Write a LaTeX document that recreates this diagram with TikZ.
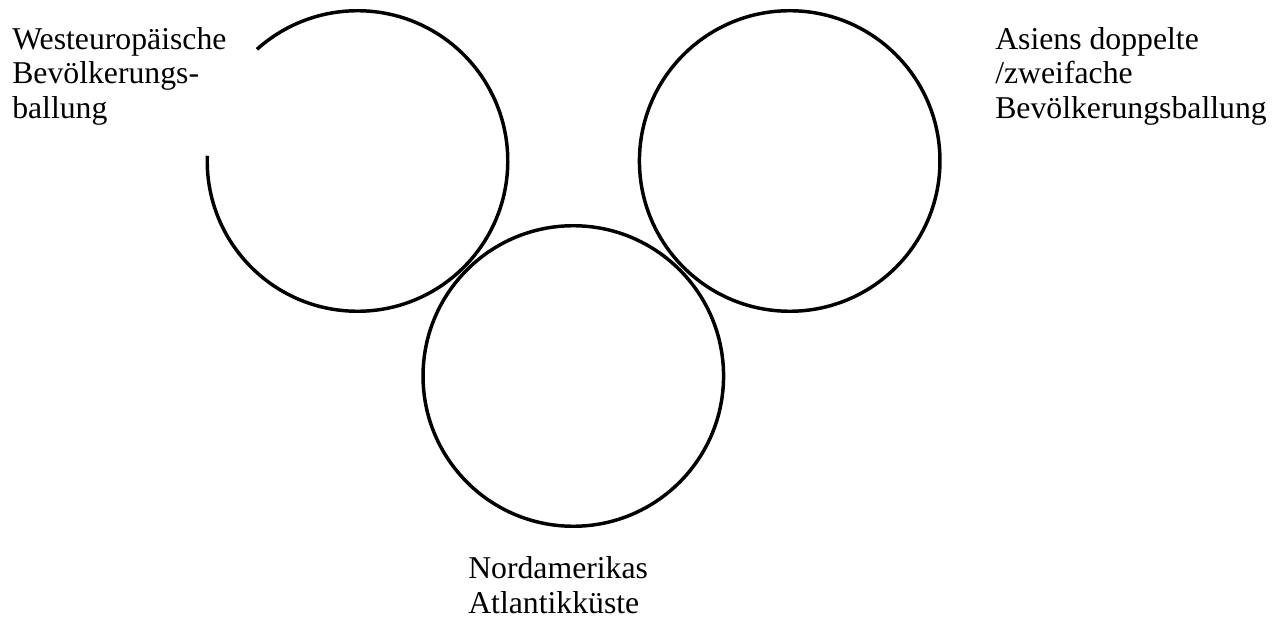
\documentclass[tikz,border=0pt]{standalone}
\usepackage{fontspec}
\setmainfont{Liberation Serif}
\begin{document}
\begin{tikzpicture}[x=0.75pt,y=0.75pt,
  ring/.style={draw=black,line width=2.6pt},
  label/.style={inner sep=0pt,align=left,anchor=base west,font=\fontsize{23.8}{25.9}\selectfont}]
\useasboundingbox (0,0) rectangle (1284,618);
\coordinate (cl) at (357.5,457);
\coordinate (cr) at (789.7,457);
\coordinate (cm) at (573.3,242);
\draw[ring] (cl) ++(178:112.7pt) arc[start angle=178,end angle=492,radius=112.7pt];
\node[ring,circle,minimum size=225.4pt,inner sep=0pt] (right) at (cr) {};
\node[ring,circle,minimum size=225.4pt,inner sep=0pt] (middle) at (cm) {};
\node[label] (tl) at (12,499.5) {Westeuropäische\\Bevölkerungs-\\ballung};
\node[label] (tr) at (995,499.7) {Asiens doppelte\\/zweifache\\Bevölkerungsballung};
\node[label] (tb) at (468,4.7) {Nordamerikas\\Atlantikküste};
\end{tikzpicture}
\end{document}
